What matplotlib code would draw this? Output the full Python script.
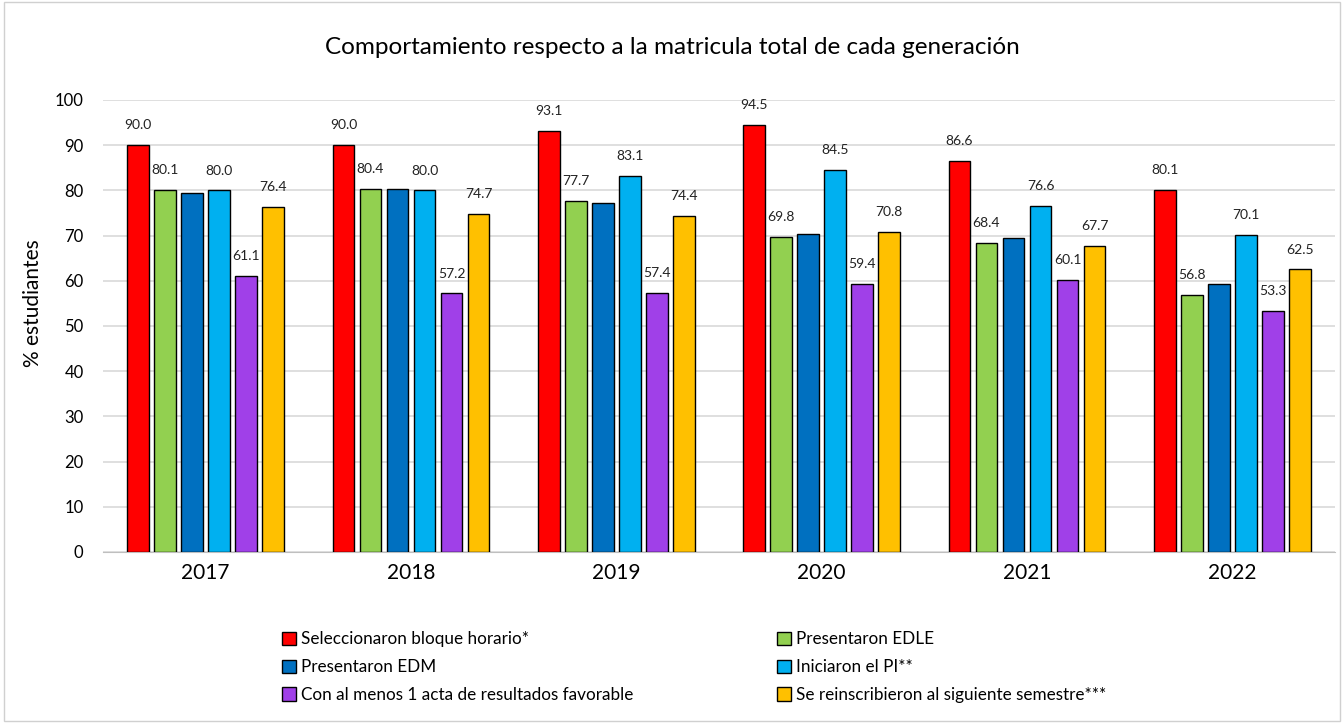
"""Comportamiento respecto a la matricula total de cada generación."""

import matplotlib
matplotlib.use("Agg")
import matplotlib.pyplot as plt
import numpy as np

plt.rcParams["font.family"] = ["Lato", "DejaVu Sans"]

years = ["2017", "2018", "2019", "2020", "2021", "2022"]

seleccionaron = [90.0, 90.0, 93.1, 94.5, 86.6, 80.1]
edle          = [80.1, 80.4, 77.7, 69.8, 68.4, 56.8]
edm           = [79.5, 80.4, 77.3, 70.4, 69.5, 59.3]   # sin etiqueta en el original
iniciaron_pi  = [80.0, 80.0, 83.1, 84.5, 76.6, 70.1]
acta          = [61.1, 57.2, 57.4, 59.4, 60.1, 53.3]
reinscritos   = [76.4, 74.7, 74.4, 70.8, 67.7, 62.5]

series = [
    ("Seleccionaron bloque horario*", seleccionaron, "#FF0000", True),
    ("Presentaron EDLE", edle, "#92D050", True),
    ("Presentaron EDM", edm, "#0070C0", False),
    ("Iniciaron el PI**", iniciaron_pi, "#00B0F0", True),
    ("Con al menos 1 acta de resultados favorable", acta, "#A040E8", True),
    ("Se reinscribieron al siguiente semestre***", reinscritos, "#FFC000", True),
]

W, H = 1344, 723
fig = plt.figure(figsize=(W / 100, H / 100), dpi=100)
fig.patches.append(plt.Rectangle((0.003, 0.003), 0.994, 0.994, transform=fig.transFigure,
                                 fill=False, edgecolor="#D0D0D0", linewidth=1))
ax = fig.add_axes([103 / W, 1 - 552 / H, 1232 / W, 452 / H])

x = np.arange(len(years))
width = 0.107
step = 0.1315
handles = []
for i, (name, vals, color, show_lbl) in enumerate(series):
    pos = x + (i - 2.5) * step
    bars = ax.bar(pos, vals, width, color=color, edgecolor="black", linewidth=1.0,
                  label=name, zorder=3)
    handles.append(bars)
    if show_lbl:
        for p, v in zip(pos, vals):
            ax.annotate(f"{v:.1f}", (p, v), xytext=(0, 10), textcoords="offset points",
                        ha="center", va="bottom", fontsize=10, color="#222222")

ax.set_xlim(-0.5, len(years) - 0.5)
ax.set_ylim(0, 100)
ax.set_yticks(range(0, 101, 10))
ax.set_xticks(x)
ax.set_xticklabels(years, fontsize=15)
ax.tick_params(axis="y", labelsize=12, length=0, pad=14)
ax.tick_params(axis="x", length=0, pad=8)
ax.yaxis.grid(True, color="#D9D9D9", linewidth=1.2, zorder=0)
for s in ["top", "right", "left"]:
    ax.spines[s].set_visible(False)
ax.spines["bottom"].set_color("#BFBFBF")

fig.text(33 / W, 1 - 303 / H, "% estudiantes", rotation=90, ha="center", va="center",
         fontsize=15)
fig.text(672 / W, 1 - 47 / H, "Comportamiento respecto a la matricula total de cada generación",
         ha="center", va="center", fontsize=17.5)

order = [0, 2, 4, 1, 3, 5]
fig.legend([handles[k] for k in order], [series[k][0] for k in order],
           loc="center left", bbox_to_anchor=(267 / W, 1 - 667 / H), ncol=2,
           frameon=False, fontsize=12.3, handlelength=0.8, handleheight=0.8,
           handletextpad=0.3, columnspacing=8.4, labelspacing=0.7)

fig.savefig("out.png", dpi=100)
